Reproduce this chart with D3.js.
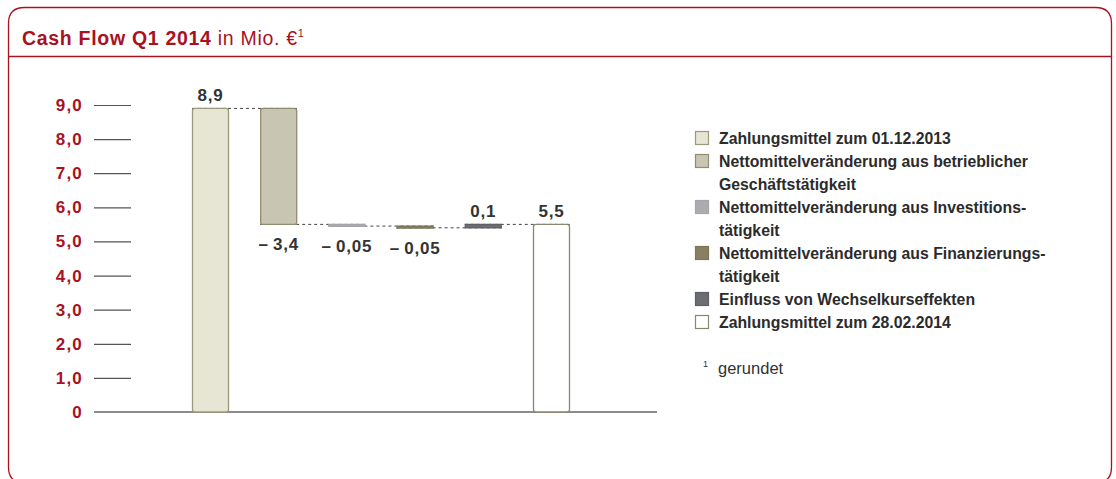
<!DOCTYPE html>
<html><head><meta charset="utf-8">
<script src="https://cdn.jsdelivr.net/npm/d3@7"></script>
<style>body{margin:0;background:#fff}svg{display:block}</style>
</head><body>
<svg id="c" width="1116" height="479"></svg>
<script>
const categories = ["Zahlungsmittel zum 01.12.2013","Nettomittelveränderung aus betrieblicher Geschäftstätigkeit","Nettomittelveränderung aus Investitionstätigkeit","Nettomittelveränderung aus Finanzierungstätigkeit","Einfluss von Wechselkurseffekten","Zahlungsmittel zum 28.02.2014"];
const values = [8.9, -3.4, -0.05, -0.05, 0.1, 5.5];
const isTotal = [true, false, false, false, false, true];
const valueLabels = ["8,9", "\u2013\u20093,4", "\u2013\u20090,05", "\u2013\u20090,05", "0,1", "5,5"];
const fills = ["#e7e5d4", "#c8c5b2", "#abacaf", "#878063", "#6c6d72", "#ffffff"];
const strokes = ["#9c9a7c", "#8f8c70", "#a5a6a9", "#7c765a", "#5f6065", "#8a8770"];
const legendLines = [
  ["Zahlungsmittel zum 01.12.2013"],
  ["Nettomittelveränderung aus betrieblicher", "Geschäftstätigkeit"],
  ["Nettomittelveränderung aus Investitions-", "tätigkeit"],
  ["Nettomittelveränderung aus Finanzierungs-", "tätigkeit"],
  ["Einfluss von Wechselkurseffekten"],
  ["Zahlungsmittel zum 28.02.2014"]
];
const yTicks = [0,1,2,3,4,5,6,7,8,9];
const yTickLabels = ["0","1,0","2,0","3,0","4,0","5,0","6,0","7,0","8,0","9,0"];

const red = "#a8111f";
const svg = d3.select("#c");
const font = "'Liberation Sans', Arial, sans-serif";

// frame
const fx0=8.5, fy0=7.5, fx1=1111.5, fy1=483, r=16;
svg.append("path").attr("d",
  `M${fx0},${fy1-r} L${fx0},${fy0+r} Q${fx0},${fy0} ${fx0+r},${fy0} L${fx1-r},${fy0} Q${fx1},${fy0} ${fx1},${fy0+r} L${fx1},${fy1-r} Q${fx1},${fy1} ${fx1-r},${fy1} L${fx0+r},${fy1} Q${fx0},${fy1} ${fx0},${fy1-r} Z`)
  .attr("fill","none").attr("stroke",red).attr("stroke-width",1.3);
svg.append("line").attr("x1",fx0).attr("x2",fx1).attr("y1",56.5).attr("y2",56.5).attr("stroke",red).attr("stroke-width",1.3);

const title = svg.append("text").attr("x",22).attr("y",45).attr("font-family",font).attr("font-size",19.5).attr("letter-spacing",0.7).attr("fill",red);
title.append("tspan").attr("font-weight","bold").text("Cash Flow Q1 2014");
title.append("tspan").text(" in Mio. €");
title.append("tspan").attr("font-size",11).attr("dy",-8).text("1");

// scales
const y = d3.scaleLinear().domain([0,9]).range([412,105]);
const x = d3.scaleBand().domain(d3.range(categories.length)).range([192,570]).paddingInner(0.4575).paddingOuter(0);

// y axis
const yAxis = d3.axisLeft(y).tickValues(yTicks).tickSize(37).tickPadding(11).tickFormat((d,i)=>yTickLabels[i]);
const ga = svg.append("g").attr("transform","translate(131,0)").call(yAxis);
ga.select(".domain").remove();
ga.selectAll(".tick line").attr("stroke","#555").attr("stroke-width",1.2);
ga.selectAll(".tick").filter(d=>d===0).select("line").remove();
ga.selectAll(".tick text").attr("font-family",font).attr("font-size",17).attr("letter-spacing",1.2).attr("font-weight","bold").attr("fill",red);

// baseline
svg.append("line").attr("x1",94).attr("x2",657).attr("y1",y(0)).attr("y2",y(0)).attr("stroke","#8c8c8c").attr("stroke-width",2);

// waterfall
let run = 0;
const bars = values.map((v,i)=>{
  let a,b;
  if(isTotal[i]){a=0;b=v;run=v;}
  else{a=run;b=run+v;run=b;}
  return {i,a,b,end:run};
});
const bw = x.bandwidth();
// connectors
bars.slice(0,-1).forEach((d,k)=>{
  const n = bars[k+1];
  svg.append("line").attr("x1",x(d.i)).attr("x2",x(n.i)+bw)
    .attr("y1",y(d.end)).attr("y2",y(d.end))
    .attr("stroke","#444").attr("stroke-width",1).attr("stroke-dasharray","3,3");
});
bars.forEach(d=>{
  const top = y(Math.max(d.a,d.b)), bot = y(Math.min(d.a,d.b));
  const h = Math.max(bot-top,2);
  svg.append("rect").attr("x",x(d.i)+0.5).attr("y",top).attr("width",bw-1).attr("height",h)
    .attr("rx",h>6?2.5:0)
    .attr("fill",fills[d.i]).attr("stroke",strokes[d.i]).attr("stroke-width",1.3);
});
// labels
bars.forEach(d=>{
  const above = values[d.i] > 0;
  const yy = above ? y(Math.max(d.a,d.b)) - 7 : y(Math.min(d.a,d.b)) + 26;
  svg.append("text").attr("x",x(d.i)+bw/2).attr("y",yy).attr("text-anchor","middle")
    .attr("font-family",font).attr("font-size",17).attr("letter-spacing",0.8).attr("font-weight","bold").attr("fill","#333")
    .text(valueLabels[d.i]);
});

// legend
let ly = 138;
legendLines.forEach((lines,i)=>{
  svg.append("rect").attr("x",695.5).attr("y",ly-6.5).attr("width",13).attr("height",13)
    .attr("fill",fills[i]).attr("stroke",strokes[i]).attr("stroke-width",1.2);
  lines.forEach((t,j)=>{
    svg.append("text").attr("x",719).attr("y",ly+5.8+j*23).attr("font-family",font)
      .attr("font-size",15.8).attr("font-weight","bold").attr("fill","#2b2b2b").text(t);
  });
  ly += lines.length*23;
});
// footnote
const fn = svg.append("text").attr("x",703).attr("y",374).attr("font-family",font).attr("fill","#333");
fn.append("tspan").attr("font-size",9).attr("dy",-7).text("1");
fn.append("tspan").attr("x",718).attr("dy",7).attr("font-size",16.5).text("gerundet");
</script>
</body></html>
